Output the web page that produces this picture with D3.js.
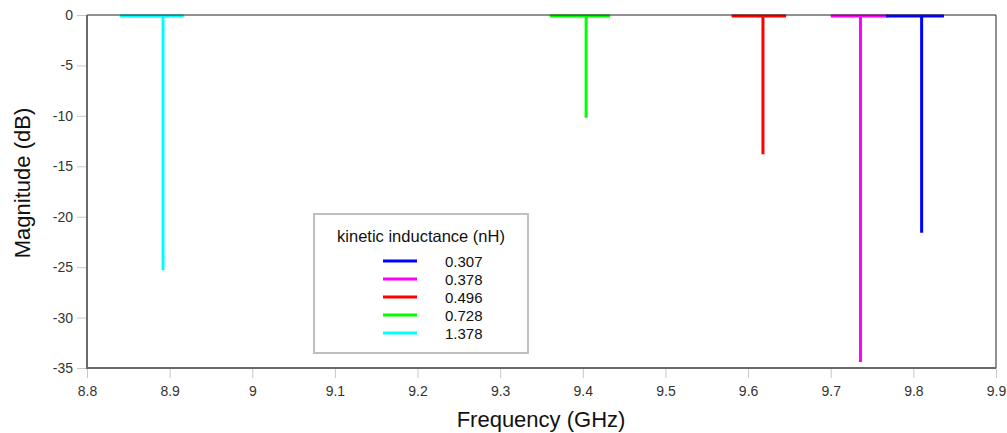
<!DOCTYPE html>
<html>
<head>
<meta charset="utf-8">
<script src="https://cdn.jsdelivr.net/npm/d3@7"></script>
<style>
  body { margin: 0; background: #fff; }
  svg { font-family: "Liberation Sans", Arial, sans-serif; }
</style>
</head>
<body>
<div id="chart"></div>
<script>
// Series labels (kinetic inductance, nH) and colours
const seriesNames = ['0.307', '0.378', '0.496', '0.728', '1.378'];
const seriesColors = ['#0000ff', '#ff00ff', '#ff0000', '#00ff00', '#00ffff'];

// Frequency (GHz) and magnitude (dB) for each series
const freq307 = [9.767, 9.810, 9.810, 9.810, 9.837];
const mag307 = [-0.1, -0.1, -21.6, -0.1, -0.1];
const freq378 = [9.700, 9.736, 9.736, 9.736, 9.770];
const mag378 = [-0.1, -0.1, -34.4, -0.1, -0.1];
const freq496 = [9.580, 9.618, 9.618, 9.618, 9.646];
const mag496 = [-0.1, -0.1, -13.8, -0.1, -0.1];
const freq728 = [9.360, 9.404, 9.404, 9.404, 9.433];
const mag728 = [-0.1, -0.1, -10.2, -0.1, -0.1];
const freq1378 = [8.840, 8.892, 8.892, 8.892, 8.917];
const mag1378 = [-0.1, -0.1, -25.3, -0.1, -0.1];

const xTicks = [8.8, 8.9, 9, 9.1, 9.2, 9.3, 9.4, 9.5, 9.6, 9.7, 9.8, 9.9];
const yTicks = [0, -5, -10, -15, -20, -25, -30, -35];

const seriesData = [
  [freq307, mag307], [freq378, mag378], [freq496, mag496],
  [freq728, mag728], [freq1378, mag1378]
].map(([f, m], i) => ({
  name: seriesNames[i],
  color: seriesColors[i],
  points: f.map((x, j) => ({ x, y: m[j] }))
}));

const W = 1007, H = 433;
const margin = { top: 15, right: 11, bottom: 65, left: 87 };
const width = W - margin.left - margin.right;
const height = H - margin.top - margin.bottom;

const svg = d3.select('#chart').append('svg')
  .attr('width', W).attr('height', H);

const g = svg.append('g')
  .attr('transform', `translate(${margin.left},${margin.top})`);

const x = d3.scaleLinear().domain([8.8, 9.9]).range([0, width]);
const y = d3.scaleLinear().domain([-35, 0]).range([height, 0]);

// Axes
const xAxis = g.append('g')
  .attr('transform', `translate(0,${height})`)
  .call(d3.axisBottom(x).tickValues(xTicks).tickSize(10).tickPadding(8)
    .tickFormat(d3.format('')));
const yAxis = g.append('g')
  .call(d3.axisLeft(y).tickValues(yTicks).tickSize(10).tickPadding(4)
    .tickFormat(d => d3.format('')(d).replace('−', '-')));

[xAxis, yAxis].forEach(ax => {
  ax.select('.domain').remove();
  ax.selectAll('.tick line').attr('stroke', '#c8c8c8');
  ax.selectAll('.tick text').attr('fill', '#333').attr('font-size', 14);
});

// Series lines
const line = d3.line().x(d => x(d.x)).y(d => y(d.y));
g.append('g').selectAll('path')
  .data(seriesData.slice().reverse())
  .join('path')
  .attr('d', d => line(d.points))
  .attr('fill', 'none')
  .attr('stroke', d => d.color)
  .attr('stroke-width', 3)
  .attr('stroke-linejoin', 'miter');

// Frame: top/right dark, left/bottom gray
g.append('line').attr('x1', 0).attr('x2', width).attr('y1', 0).attr('y2', 0)
  .attr('stroke', '#222').attr('stroke-width', 1);
g.append('line').attr('x1', width).attr('x2', width).attr('y1', 0).attr('y2', height)
  .attr('stroke', '#222').attr('stroke-width', 1);
g.append('line').attr('x1', 0).attr('x2', 0).attr('y1', 0).attr('y2', height + 1)
  .attr('stroke', '#6a6a6a').attr('stroke-width', 2);
g.append('line').attr('x1', 0).attr('x2', width).attr('y1', height).attr('y2', height)
  .attr('stroke', '#6a6a6a').attr('stroke-width', 2);

// Axis titles
svg.append('text')
  .attr('x', 541)
  .attr('y', 427)
  .attr('text-anchor', 'middle')
  .attr('font-size', 22)
  .attr('fill', '#111')
  .text('Frequency (GHz)');
svg.append('text')
  .attr('transform', `translate(30,183) rotate(-90)`)
  .attr('text-anchor', 'middle')
  .attr('font-size', 22)
  .attr('fill', '#111')
  .text('Magnitude (dB)');

// Legend
const legend = svg.append('g').attr('transform', 'translate(314,214)');
legend.append('rect')
  .attr('width', 214).attr('height', 139)
  .attr('fill', '#fff').attr('stroke', '#c0c0c0').attr('stroke-width', 2);
legend.append('text')
  .attr('x', 107).attr('y', 28)
  .attr('text-anchor', 'middle')
  .attr('font-size', 16.5).attr('fill', '#111')
  .text('kinetic inductance (nH)');
const items = legend.selectAll('.item')
  .data(seriesData)
  .join('g')
  .attr('class', 'item')
  .attr('transform', (d, i) => `translate(0,${47 + i * 18})`);
items.append('line')
  .attr('x1', 69).attr('x2', 103)
  .attr('stroke', d => d.color).attr('stroke-width', 3);
items.append('text')
  .attr('x', 131).attr('y', 5.5)
  .attr('font-size', 15).attr('fill', '#111')
  .text(d => d.name);
</script>
</body>
</html>
